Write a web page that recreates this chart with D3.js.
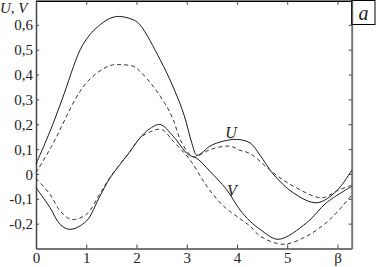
<!DOCTYPE html>
<html>
<head>
<meta charset="utf-8">
<script src="https://cdn.jsdelivr.net/npm/d3@7"></script>
<style>
    body { margin: 0; background: #fff; }
    svg { display: block; }
</style>
</head>
<body>
<script>
// values: [beta, value]
var uSolid = [
    [0, 0.04], [0.28, 0.172], [0.52, 0.30], [0.88, 0.50], [1.07, 0.56], [1.24, 0.594],
    [1.44, 0.623], [1.64, 0.634], [1.94, 0.62], [2.07, 0.60], [2.47, 0.46], [2.73, 0.35],
    [2.95, 0.235], [3.1, 0.125], [3.2, 0.075], [3.3, 0.085], [3.46, 0.112], [3.73, 0.132],
    [3.99, 0.139], [4.26, 0.125], [4.46, 0.075], [4.72, 0.0], [5.12, -0.076], [5.59, -0.116],
    [5.98, -0.069], [6.283, 0.015]
];
var uDashed = [
    [0, 0.005], [0.28, 0.10], [0.41, 0.15], [0.78, 0.30], [0.975, 0.36], [1.21, 0.406],
    [1.47, 0.436], [1.64, 0.44], [1.94, 0.433], [2.07, 0.413], [2.33, 0.353], [2.6, 0.272],
    [2.73, 0.219], [2.87, 0.139], [3.03, 0.085], [3.15, 0.068], [3.46, 0.098], [3.86, 0.112],
    [4.06, 0.095], [4.26, 0.082], [4.72, 0.005], [5.12, -0.049], [5.69, -0.096],
    [5.98, -0.069], [6.283, -0.045]
];
var vSolid = [
    [0, -0.055], [0.28, -0.136], [0.48, -0.203], [0.68, -0.223], [1.0, -0.19], [1.27, -0.09],
    [1.47, -0.017], [1.87, 0.09], [2.07, 0.145], [2.25, 0.18], [2.47, 0.199], [2.73, 0.152],
    [3.03, 0.078], [3.2, 0.063], [3.46, 0.011], [3.79, -0.062], [4.06, -0.145], [4.26, -0.19],
    [4.46, -0.223], [4.82, -0.263], [5.39, -0.196], [5.78, -0.116], [6.283, -0.05]
];
var vDashed = [
    [0, -0.018], [0.28, -0.082], [0.48, -0.149], [0.71, -0.183], [1.0, -0.163], [1.27, -0.08],
    [1.47, -0.015], [1.87, 0.09], [2.07, 0.145], [2.28, 0.17], [2.5, 0.179], [2.73, 0.132],
    [3.06, 0.058], [3.4, -0.049], [3.73, -0.129], [4.06, -0.18], [4.26, -0.21], [4.46, -0.25],
    [4.92, -0.283], [5.39, -0.25], [5.85, -0.183], [6.283, -0.085]
];

var xTicks = [0, 1, 2, 3, 4, 5, 6];
var xTickLabels = ["0", "1", "2", "3", "4", "5", "\u03b2"];
var yTicks = [-0.2, -0.1, 0, 0.1, 0.2, 0.3, 0.4, 0.5, 0.6];

var width = 376, height = 267;
var plotLeft = 36, plotRight = 351.7, plotTop = 0, plotBottom = 248.5;
var serif = "'Liberation Serif', 'Times New Roman', serif";

var svg = d3.select("body").append("svg")
    .attr("width", width)
    .attr("height", height);

var x = d3.scaleLinear()
    .domain([0, 2 * Math.PI])
    .range([plotLeft, plotRight]);

var y = d3.scaleLinear()
    .domain([-0.3, 0.7])
    .range([plotBottom, plotTop]);

function yFormat(d) {
    return d === 0 ? "0" : d.toFixed(1).replace(".", ",");
}

function styleAxis(domainColor, domainWidth) {
    return function (g) {
        g.attr("font-family", serif).attr("font-size", 15);
        g.select(".domain").attr("stroke", domainColor).attr("stroke-width", domainWidth);
        g.selectAll(".tick line").attr("stroke", "#444");
        g.selectAll(".tick text").attr("fill", "#222");
    };
}

// axes, ticks pointing inward
var xAxis = d3.axisBottom(x)
    .tickValues(xTicks)
    .tickFormat(function (d, i) { return xTickLabels[i]; })
    .tickSizeInner(-4)
    .tickSizeOuter(0)
    .tickPadding(4);

var xAxisTop = d3.axisTop(x)
    .tickValues(xTicks.slice(1))
    .tickFormat("")
    .tickSizeInner(-4)
    .tickSizeOuter(0);

var yAxis = d3.axisLeft(y)
    .tickValues(yTicks)
    .tickFormat(yFormat)
    .tickSizeInner(-3)
    .tickSizeOuter(0)
    .tickPadding(3);

var yAxisRight = d3.axisRight(y)
    .tickValues(yTicks)
    .tickFormat("")
    .tickSizeInner(-3)
    .tickSizeOuter(0);

svg.append("g")
    .attr("transform", "translate(0," + plotBottom + ")")
    .call(xAxis)
    .call(styleAxis("#777", 2));

svg.append("g")
    .attr("transform", "translate(0," + (plotTop + 0.75) + ")")
    .call(xAxisTop)
    .call(styleAxis("#000", 1.5));

svg.append("g")
    .attr("transform", "translate(" + plotLeft + ",0)")
    .call(yAxis)
    .call(styleAxis("#444", 1.5))
    .call(function (g) { g.selectAll(".tick text").attr("dy", "0.34em"); });

svg.append("g")
    .attr("transform", "translate(" + plotRight + ",0)")
    .call(yAxisRight)
    .call(styleAxis("#777", 2));

// curves
var line = d3.line()
    .x(function (d) { return x(d[0]); })
    .y(function (d) { return y(d[1]); })
    .curve(d3.curveCatmullRom.alpha(0.5));

var curves = [
    { data: uSolid, dashed: false },
    { data: uDashed, dashed: true },
    { data: vSolid, dashed: false },
    { data: vDashed, dashed: true }
];

svg.append("g")
    .selectAll("path")
    .data(curves)
    .enter().append("path")
    .attr("fill", "none")
    .attr("stroke", function (d) { return d.dashed ? "#333" : "#1a1a1a"; })
    .attr("stroke-width", 1)
    .attr("stroke-dasharray", function (d) { return d.dashed ? "4,3" : null; })
    .attr("d", function (d) { return line(d.data); });

// labels
function addLabel(tx, ty, size, anchor, str) {
    svg.append("text")
        .attr("x", tx)
        .attr("y", ty)
        .attr("font-family", serif)
        .attr("font-style", "italic")
        .attr("font-size", size)
        .attr("fill", "#222")
        .attr("text-anchor", anchor)
        .text(str);
}

addLabel(0, 12.5, 15, "start", "U, V");
addLabel(231, 138, 16, "middle", "U");
addLabel(232, 196, 16, "middle", "V");

// panel letter box
svg.append("rect")
    .attr("x", plotRight)
    .attr("y", 0.5)
    .attr("width", width - plotRight - 1)
    .attr("height", 24)
    .attr("fill", "none")
    .attr("stroke", "#000")
    .attr("stroke-width", 1);

addLabel(363.5, 20, 20, "middle", "a");
</script>
</body>
</html>
